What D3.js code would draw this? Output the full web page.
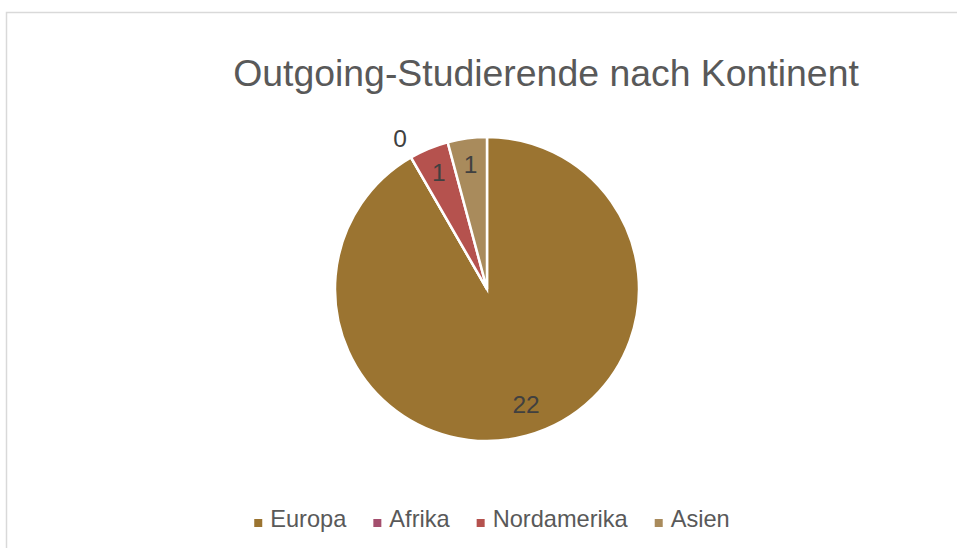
<!DOCTYPE html>
<html>
<head>
<meta charset="utf-8">
<script src="https://cdn.jsdelivr.net/npm/d3@7"></script>
<style>
    body { margin: 0; background: #fff; }
    text { font-family: "Liberation Sans", Arial, sans-serif; }
</style>
</head>
<body>
<div id="chart"></div>
<script>
// Daten
const continents = ["Europa", "Afrika", "Nordamerika", "Asien"];
const students = [22, 0, 1, 1];
const colors = ["#9b7431", "#a44f6e", "#b5524e", "#a98b5c"];
const chartTitle = "Outgoing-Studierende nach Kontinent";

const w = 957;
const h = 548;
const cx = 487;
const cy = 289;
const r = 152;

const svg = d3.select("#chart")
    .append("svg")
    .attr("width", w)
    .attr("height", h);

// Rahmen (geht rechts und unten aus dem Bild)
svg.append("rect")
    .attr("x", 6.5)
    .attr("y", 12.5)
    .attr("width", 1100)
    .attr("height", 600)
    .attr("fill", "#fff")
    .attr("stroke", "#d9d9d9")
    .attr("stroke-width", 1.5);

svg.append("text")
    .attr("x", 546)
    .attr("y", 86)
    .attr("text-anchor", "middle")
    .attr("font-size", 37.4)
    .attr("fill", "#595959")
    .text(chartTitle);

const pie = d3.pie().sort(null).value(d => d);
const arcs = pie(students);
const arc = d3.arc().innerRadius(0).outerRadius(r);

const g = svg.append("g").attr("transform", "translate(" + cx + "," + cy + ")");

g.selectAll("path")
    .data(arcs)
    .enter()
    .append("path")
    .attr("d", arc)
    .attr("fill", (d, i) => colors[i])
    .attr("stroke", "#fff")
    .attr("stroke-width", 2.5)
    .attr("stroke-linejoin", "miter");

// Beschriftung: große Stücke weiter innen, kleine am Rand, 0 außerhalb
function labelRadius(d) {
    if (d.value === 0) return r + 22;
    if (d.endAngle - d.startAngle < 0.5) return r * 0.83;
    return r * 0.8;
}
function labelAngle(d) {
    // Excel schiebt das große Label etwas nach rechts
    return (d.startAngle + d.endAngle) / 2 - (d.value > 10 ? 0.065 : 0);
}

g.selectAll("text.lbl")
    .data(arcs)
    .enter()
    .append("text")
    .attr("class", "lbl")
    .attr("x", d => Math.sin(labelAngle(d)) * labelRadius(d))
    .attr("y", d => -Math.cos(labelAngle(d)) * labelRadius(d))
    .attr("dy", "0.36em")
    .attr("text-anchor", "middle")
    .attr("font-size", 24.5)
    .attr("fill", "#404040")
    .text(d => d.value);

// Legende
const legend = svg.append("g");
const items = legend.selectAll("g")
    .data(continents)
    .enter()
    .append("g");

items.append("rect")
    .attr("width", 8)
    .attr("height", 8)
    .attr("y", -8)
    .attr("fill", (d, i) => colors[i]);

items.append("text")
    .attr("x", 16)
    .attr("font-size", 23.6)
    .attr("fill", "#595959")
    .text(d => d);

let xpos = 0;
items.each(function () {
    const tw = d3.select(this).select("text").node().getComputedTextLength();
    d3.select(this).attr("transform", "translate(" + xpos + ",0)");
    xpos += 16 + tw + 27;
});
const legendWidth = xpos - 27;
legend.attr("transform", "translate(" + (492 - legendWidth / 2) + ",527)");
</script>
</body>
</html>
